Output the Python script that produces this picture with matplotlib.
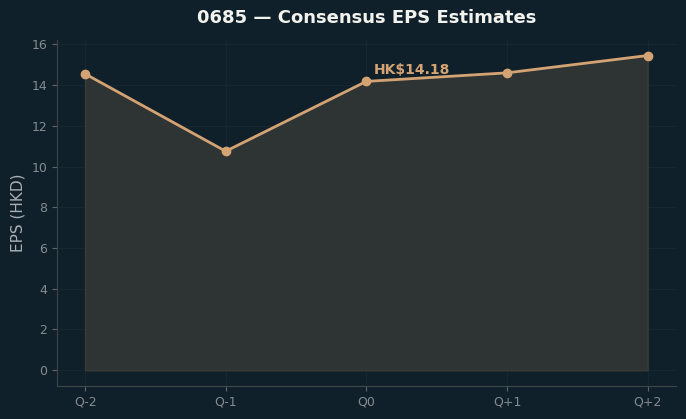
import matplotlib
matplotlib.use("Agg")
import matplotlib.pyplot as plt

# consensus EPS by quarter
quarters = ["Q-2", "Q-1", "Q0", "Q+1", "Q+2"]
eps = [14.55, 10.75, 14.18, 14.60, 15.45]
label_idx = 2

bg = "#10202a"
line_col = "#d4a373"

fig = plt.figure(figsize=(6.86, 4.19), dpi=100, facecolor=bg)
ax = fig.add_axes([0.083, 0.079, 0.902, 0.826], facecolor=bg)

x = list(range(len(quarters)))
ax.fill_between(x, eps, 0, color="#2e3434", edgecolor="#3a3d35", linewidth=1)
ax.plot(x, eps, color=line_col, linewidth=2, marker="o", markersize=6)
ax.annotate("HK$%.2f" % eps[label_idx], (x[label_idx], eps[label_idx]),
            xytext=(5, 5), textcoords="offset points",
            color=line_col, fontsize=10, fontweight="bold")

ax.set_xticks(x)
ax.set_xticklabels(quarters)
ax.set_ylabel("EPS (HKD)", color="#a9afb3", fontsize=11)
ax.set_title("0685 \u2014 Consensus EPS Estimates", color="#f2f2ee",
             fontsize=13, fontweight="bold", pad=12)

ax.tick_params(colors="#5c6468", labelcolor="#858c90", labelsize=9)
ax.grid(color="#17272f", linewidth=0.8)
ax.set_axisbelow(True)
for s in ["top", "right"]:
    ax.spines[s].set_visible(False)
for s in ["left", "bottom"]:
    ax.spines[s].set_color("#3d4649")

fig.savefig("out.png", facecolor=bg)
